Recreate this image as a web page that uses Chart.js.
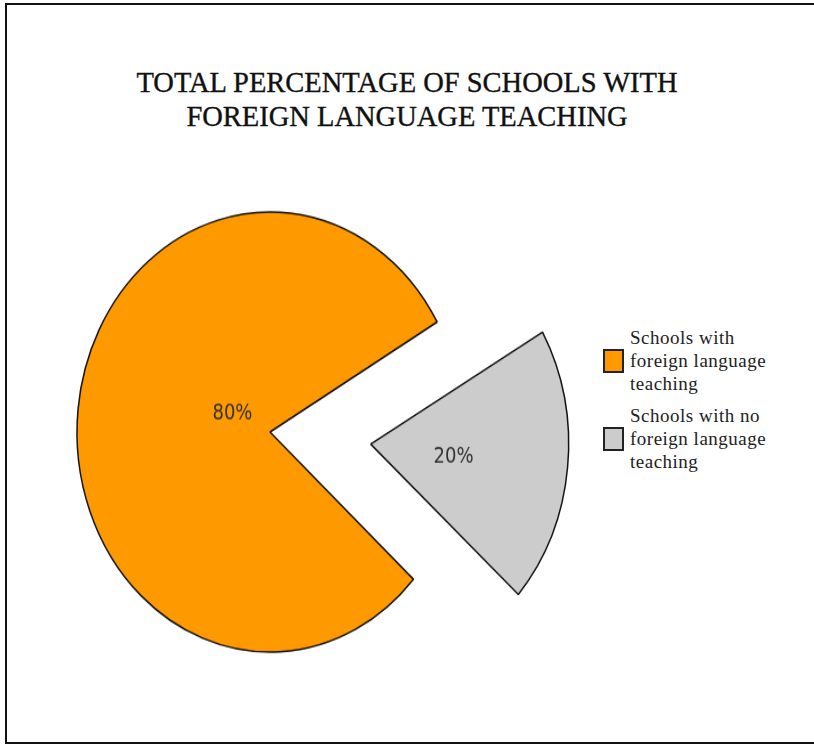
<!DOCTYPE html>
<html>
<head>
<meta charset="utf-8">
<script src="https://cdn.jsdelivr.net/npm/chart.js@4"></script>
<style>
  html, body { margin: 0; padding: 0; background: #fff; overflow: hidden; }
  #page { position: relative; width: 814px; height: 744px; overflow: hidden; background: #fff; }
  #frame {
    position: absolute; left: 5px; top: 3px; width: 809px; height: 741px;
    box-sizing: border-box; border: 2px solid #111; border-right: 0;
  }
  #title {
    position: absolute; left: 0; top: 66px; width: 814px; text-align: center;
    font: 28.5px/34px "Liberation Serif", serif; color: #111;
    -webkit-text-stroke: 0.35px #111;
  }
  /* the pie is drawn round and stretched a bit taller */
  #pieChart {
    position: absolute; left: -50px; top: 182px;
    transform: scaleY(1.14); transform-origin: 50% 50%;
  }
  #legend {
    position: absolute; left: 603px; top: 326px;
    font: 19px/23px "Liberation Serif", serif; letter-spacing: 0.5px; color: #222;
  }
  .legend-item { display: flex; align-items: center; margin-bottom: 9px; }
  .legend-box {
    flex: none; width: 21px; height: 24px; margin-right: 6px;
    box-sizing: border-box; border: 2px solid #222;
  }
</style>
</head>
<body>
<div id="page">
  <div id="frame"></div>
  <div id="title"></div>
  <canvas id="pieChart" width="640" height="500"></canvas>
  <div id="legend"></div>
</div>
<script>
// 데이터
const titleLines = ["TOTAL PERCENTAGE OF SCHOOLS WITH", "FOREIGN LANGUAGE TEACHING"];
const categories = [
  ["Schools with", "foreign language", "teaching"],
  ["Schools with no", "foreign language", "teaching"]
];
const shares = [80, 20];

const sliceColors = ["#ff9900", "#cccccc"];

// 라벨 위치 (반지름 비율, 중심각에서 돌리는 각도)
const labelSpots = [
  { r: 0.212, turn: 17.4 },
  { r: 0.408, turn: 2.1 }
];

document.getElementById("title").innerHTML = titleLines.join("<br>");

// 조각 안 퍼센트 라벨
const sliceLabels = {
  id: "sliceLabels",
  afterDatasetsDraw(chart) {
    const ctx = chart.ctx;
    const meta = chart.getDatasetMeta(0);

    ctx.save();
    ctx.font = '20px "DejaVu Sans Condensed", "DejaVu Sans", sans-serif';
    ctx.fillStyle = "#333333";
    ctx.textAlign = "center";
    ctx.textBaseline = "middle";

    meta.data.forEach((arc, i) => {
      const { x, y, startAngle, endAngle, outerRadius, circumference } =
        arc.getProps(["x", "y", "startAngle", "endAngle", "outerRadius", "circumference"], true);
      const mid = (startAngle + endAngle) / 2;

      // ArcElement 이 offset 조각을 밀어내는 거리와 같게
      const off = (arc.options.offset || 0) / 4;
      const fix = 1 - Math.sin(Math.min(Math.PI, circumference));
      const shift = off * (1 + fix);

      const spot = labelSpots[i];
      const a = mid + spot.turn * Math.PI / 180;
      const px = x + Math.cos(mid) * shift + Math.cos(a) * outerRadius * spot.r;
      const py = y + Math.sin(mid) * shift + Math.sin(a) * outerRadius * spot.r;

      ctx.fillText(shares[i] + "%", px, py);
    });

    ctx.restore();
  }
};

const pieChart = new Chart(document.getElementById("pieChart"), {
  type: "pie",
  data: {
    labels: categories,
    datasets: [{
      data: shares,
      backgroundColor: sliceColors,
      borderColor: "#111111",
      borderWidth: 1.5,
      offset: [0, 405]
    }]
  },
  options: {
    responsive: false,
    animation: false,
    rotation: 132,
    radius: 193,
    layout: { padding: 0 },
    plugins: {
      legend: { display: false },
      tooltip: { enabled: false }
    }
  },
  plugins: [sliceLabels]
});

// 범례는 차트 데이터로 직접 만든다
const legendEl = document.getElementById("legend");
pieChart.data.labels.forEach((label, i) => {
  const item = document.createElement("div");
  item.className = "legend-item";

  const box = document.createElement("div");
  box.className = "legend-box";
  box.style.background = pieChart.data.datasets[0].backgroundColor[i];

  const text = document.createElement("div");
  text.innerHTML = label.join("<br>");

  item.appendChild(box);
  item.appendChild(text);
  legendEl.appendChild(item);
});
</script>
</body>
</html>
